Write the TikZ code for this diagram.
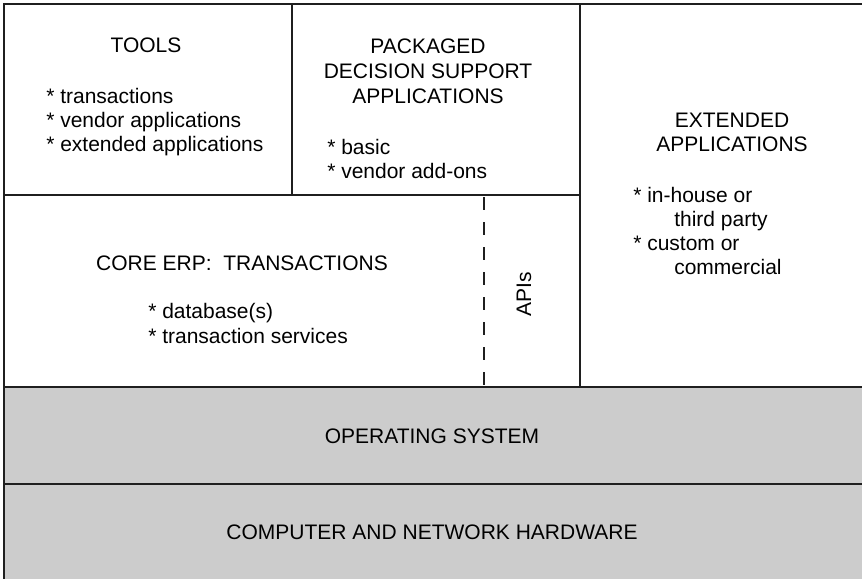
\documentclass[tikz,border=0pt]{standalone}
\usepackage{fontspec}
\setmainfont{Liberation Sans}
\begin{document}
\begin{tikzpicture}[x=0.75pt,y=-0.75pt,
  rule/.style={line width=1.1pt,draw=black!88},
  layer/.style={fill=black!20,draw=none},
  txt/.style={inner sep=0pt,font=\fontsize{15.75}{18.75}\selectfont},
  lft/.style={txt,anchor=base west},
  ctr/.style={txt,anchor=base}]
\useasboundingbox (0,0) rectangle (862,578);

% shaded system layers
\fill[layer] (4,387) rectangle (864,484);
\fill[layer] (4,484) rectangle (864,580);

% frame and cell dividers
\draw[rule] (4,580) -- (4,4) -- (864,4);
\draw[rule] (4,195) -- (580,195);
\draw[rule] (292,4) -- (292,195);
\draw[rule] (580,4) -- (580,387);
\draw[rule] (4,387) -- (864,387);
\draw[rule] (4,484) -- (864,484);
\draw[line width=1pt,draw=black!88,dash pattern=on 9.75pt off 9pt] (484,197) -- (484,387);

% tools
\node[ctr] (tools) at (146,52) {TOOLS};
\node[lft] (t1) at (46,103) {* transactions};
\node[lft] (t2) at (46,127) {* vendor applications};
\node[lft] (t3) at (46,151) {* extended applications};

% packaged decision support
\node[ctr] (p1) at (428,53) {PACKAGED};
\node[ctr] (p2) at (428,78) {DECISION SUPPORT};
\node[ctr] (p3) at (428,103) {APPLICATIONS};
\node[lft] (p4) at (327,154) {* basic};
\node[lft] (p5) at (327,178) {* vendor add-ons};

% extended applications
\node[ctr] (e1) at (732,127) {EXTENDED};
\node[ctr] (e2) at (732,151) {APPLICATIONS};
\node[lft] (e3) at (633,202) {* in-house or};
\node[lft] (e4) at (674,226) {third party};
\node[lft] (e5) at (633,250) {* custom or};
\node[lft] (e6) at (674,274) {commercial};

% core ERP
\node[ctr] (c1) at (242,270) {CORE ERP:\ \ TRANSACTIONS};
\node[lft] (c2) at (148,318) {* database(s)};
\node[lft] (c3) at (148,343) {* transaction services};

% APIs
\node[txt,rotate=90] (api) at (524,294) {APIs};

% system layers
\node[ctr] (os) at (432,443) {OPERATING SYSTEM};
\node[ctr] (hw) at (432,539) {COMPUTER AND NETWORK HARDWARE};
\end{tikzpicture}
\end{document}
